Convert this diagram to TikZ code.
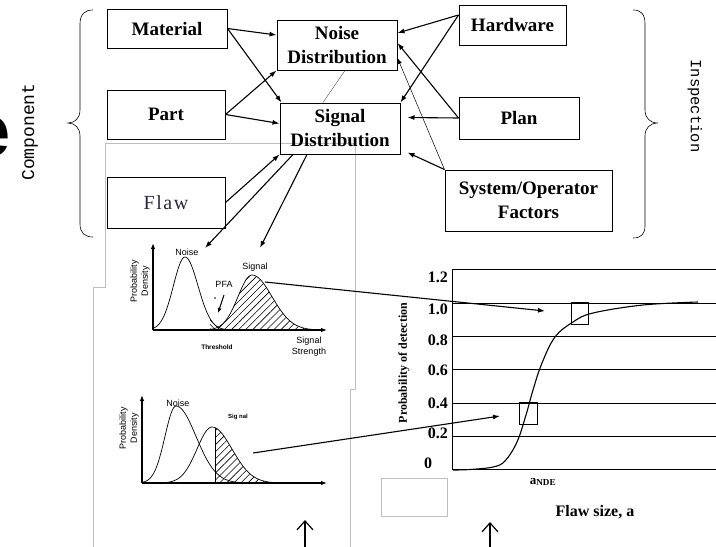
\documentclass[tikz,border=0pt]{standalone}
\usepackage{fontspec}
\setmainfont{Liberation Serif}
\setsansfont{Liberation Sans}
\setmonofont{Liberation Mono}
\usetikzlibrary{arrows.meta,patterns,patterns.meta,calc}
\definecolor{flawtext}{RGB}{40,40,60}
\begin{document}
\begin{tikzpicture}[x=1pt,y=-1pt,
 box/.style={draw,line width=1pt,inner sep=0pt,align=center,font=\fontsize{19}{24}\selectfont\bfseries},
 conn/.style={line width=1.1pt,-{Latex[length=7pt,width=5pt]}},
 thinconn/.style={line width=0.5pt,-{Latex[length=6pt,width=4pt]}},
 panel/.style={draw=black!25,line width=0.6pt},
 paxis/.style={line width=1.1pt,-{Latex[length=6pt,width=4.5pt]}},
 lab/.style={font=\sffamily\fontsize{9}{10}\selectfont,inner sep=0pt},
 pcurve/.style={line width=0.7pt},
 hatch/.style={pattern={Lines[angle=45,distance=5pt,line width=0.6pt]}},
 gridline/.style={line width=0.6pt},
 ytick/.style={anchor=east,inner sep=0pt,font=\fontsize{16}{16}\selectfont\bfseries},
 uparrow/.style={line width=1.2pt,-{Straight Barb[length=9pt,width=16pt]}}
]
\useasboundingbox (0,0) rectangle (716,547);

% panels
\draw[panel] (93,547) -- (93,287) -- (105,287) -- (105,143) -- (355,143) -- (355,389) -- (350,389) -- (350,547);
\draw[panel] (381,478) rectangle (447,516);

% big e clipped at the left edge, as in the reference
\begin{scope}
\clip (0,0) rectangle (716,547);
\node[font=\sffamily\bfseries\fontsize{74}{74}\selectfont,inner sep=0pt] (ebig) at (-10,137) {e};
\end{scope}

% side labels
\node[rotate=90,font=\ttfamily\fontsize{18}{18}\selectfont,inner sep=0pt] (comp) at (30,132) {Component};
\node[rotate=-90,font=\ttfamily\fontsize{15.5}{15.5}\selectfont,inner sep=0pt] (insp) at (695,106) {Inspection};

% braces
\draw[line width=0.6pt] (93,10) .. controls (85,10) and (80,14) .. (80,24) -- (80,110) .. controls (80,118) and (75,123) .. (68,123) .. controls (75,123) and (80,128) .. (80,136) -- (80,224) .. controls (80,233) and (85,237) .. (93,237);
\draw[line width=0.6pt] (633,10) .. controls (641,10) and (645,14) .. (645,24) -- (645,110) .. controls (645,118) and (650,123) .. (658,123) .. controls (650,123) and (645,128) .. (645,136) -- (645,226) .. controls (645,234) and (641,238) .. (633,238);

% boxes
\node[box,minimum width=120pt,minimum height=39pt] (mat) at (167,28.5) {Material};
\node[box,minimum width=118pt,minimum height=49pt] (part) at (166,114.5) {Part};
\node[draw,line width=1pt,inner sep=0pt,minimum width=118pt,minimum height=51pt,text=flawtext,font=\fontsize{20}{24}\selectfont\addfontfeature{LetterSpace=8}] (flaw) at (166,202.5) {Flaw};
\node[box,minimum width=120pt,minimum height=50pt] (noise) at (337,45) {Noise\\Distribution};
\node[box,minimum width=120pt,minimum height=51pt] (sig) at (340,128.5) {Signal\\Distribution};
\node[box,minimum width=107pt,minimum height=40pt] (hw) at (512.5,25) {Hardware};
\node[box,minimum width=120pt,minimum height=42pt] (plan) at (519,118) {Plan};
\node[box,minimum width=167pt,minimum height=61pt] (sys) at (528.5,200.5) {System/Operator\\Factors};

% connectors
\draw[conn] (mat.east) -- ([yshift=10pt]noise.west);
\draw[conn] (mat.east) -- ([xshift=2pt]sig.north west);
\draw[conn] (part.east) -- (noise.south west);
\draw[conn] (part.east) -- ([yshift=5pt]sig.west);
\draw[conn] (flaw.east) -- (sig.south west);
\draw[line width=0.4pt,black!70] ([xshift=8pt]noise.south) -- ([xshift=-17pt]sig.north);
\coordinate (nz1) at (205,248);
\coordinate (sg1) at (260,248);
\draw[conn] ([xshift=-47pt]sig.south) -- (nz1);
\draw[conn] ([xshift=-33pt]sig.south) -- (sg1);
\draw[conn] ([yshift=10pt]hw.west) -- ([yshift=12pt]noise.east);
\draw[conn] ([yshift=10pt]hw.west) -- (sig.north east);
\draw[conn] (plan.west) -- ([yshift=2pt]noise.east);
\draw[conn] (plan.west) -- ([xshift=7pt,yshift=11pt]sig.east);
\draw[thinconn] (sys.north west) -- ([yshift=-13pt]noise.east);
\draw[conn] (sys.north west) -- ([xshift=7pt,yshift=2pt]sig.south east);

% ---------- upper distribution plot ----------
\fill[hatch] (213,330) -- plot[domain=213:252,samples=30] (\x,{330-55*exp(-(\x-252)^2/392)}) -- plot[domain=252:315,samples=40] (\x,{330-55*exp(-(\x-252)^2/800)}) -- (315,330) -- cycle;
\fill[pattern={Lines[angle=-45,distance=3pt,line width=0.5pt]}] (210,330) -- plot[domain=210:228,samples=15] (\x,{330-73*exp(-(\x-185)^2/338)}) -- (228,330) -- cycle;
\draw[pcurve] plot[domain=153:185,samples=30] (\x,{330-73*exp(-(\x-185)^2/269)}) -- plot[domain=185:230,samples=40] (\x,{330-73*exp(-(\x-185)^2/338)});
\draw[pcurve] plot[domain=207:252,samples=30] (\x,{330-55*exp(-(\x-252)^2/392)}) -- plot[domain=252:318,samples=40] (\x,{330-55*exp(-(\x-252)^2/800)});
\draw[paxis] (153,330) -- (153,243);
\draw[paxis] (153,330) -- (327,330);
\node[lab] (n1lab) at (187,252) {Noise};
\node[lab] (s1lab) at (255,267) {Signal};
\node[lab] (pfa) at (224,284) {PFA};
\draw[line width=1pt,-{Latex[length=5pt,width=4pt]}] (224,295) -- (218,313);
\fill (215,298) circle (0.8);
\node[lab,rotate=90,align=center,font=\sffamily\fontsize{9}{11}\selectfont] (pd1) at (140,281) {Probability\\Density};
\node[lab,font=\sffamily\bfseries\fontsize{6.5}{6.5}\selectfont] (thr) at (217,347) {Threshold};
\node[lab,align=center,font=\sffamily\fontsize{9}{11}\selectfont] (ss) at (309,347) {Signal\\Strength};

% ---------- lower distribution plot ----------
\fill[hatch] (215,483) -- plot[domain=215:277,samples=40] (\x,{483-56*exp(-(\x-212)^2/800)}) -- (277,483) -- cycle;
\draw[pcurve] plot[domain=142:176,samples=30] (\x,{483-77*exp(-(\x-176)^2/242)}) -- plot[domain=176:240,samples=40] (\x,{483-77*exp(-(\x-176)^2/800)});
\draw[pcurve] plot[domain=165:212,samples=30] (\x,{483-56*exp(-(\x-212)^2/450)}) -- plot[domain=212:280,samples=40] (\x,{483-56*exp(-(\x-212)^2/800)});
\draw[line width=0.5pt] (215,483) -- (215,{483-56*exp(-9/800)});
\draw[paxis] (142,483) -- (142,395);
\draw[paxis] (142,483) -- (327,483);
\node[lab] (n2lab) at (178,403) {Noise};
\node[lab,font=\sffamily\bfseries\fontsize{6}{6}\selectfont] (s2lab) at (238,417) {Sig nal};
\node[lab,rotate=90,align=center,font=\sffamily\fontsize{9}{11}\selectfont] (pd2) at (129,428) {Probability\\Density};

% ---------- PoD chart ----------
\foreach \yy in {269,303,336,369,403,436,469} \draw[gridline] (452,\yy) -- (716,\yy);
\draw[gridline] (452,269) -- (452,469);
\node[ytick] (t12) at (448,277) {1.2};
\node[ytick] (t10) at (448,309) {1.0};
\node[ytick] (t08) at (448,340) {0.8};
\node[ytick] (t06) at (448,370) {0.6};
\node[ytick] (t04) at (448,403) {0.4};
\node[ytick] (t02) at (448,433) {0.2};
\node[ytick,anchor=center] (t00) at (428,463) {0};
\node[rotate=90,inner sep=0pt,font=\bfseries\fontsize{12}{12}\selectfont] (podlab) at (404,363) {Probability of detection};
\draw[line width=1.1pt] plot[smooth,tension=0.6] coordinates {(453,470) (470,469.5) (493,467) (505,461) (517,442) (526,415) (533,390) (542,363) (555,337) (573,322) (593,313) (643,305) (698,302)};
\draw[line width=0.9pt] (571,302) rectangle (588,324);
\draw[line width=0.9pt] (519,402) rectangle (537,424);
\node[inner sep=0pt,font=\bfseries\fontsize{13}{13}\selectfont] (ande) at (543,482) {a\textsubscript{NDE}};
\node[inner sep=0pt,font=\bfseries\fontsize{16}{16}\selectfont] (fsz) at (595,512) {Flaw size, a};

% plot-to-PoD connectors
\coordinate (pk1) at (265,282);
\coordinate (pod1) at (545,311);
\draw[conn] (pk1) -- (pod1);
\coordinate (pk2) at (253,453);
\coordinate (pod2) at (500,416);
\draw[conn] (pk2) -- (pod2);

% bottom arrows
\coordinate (ua1) at (305,547);
\coordinate (ub1) at (305,520);
\coordinate (ua2) at (490,547);
\coordinate (ub2) at (490,522);
\draw[uparrow] (ua1) -- (ub1);
\draw[uparrow] (ua2) -- (ub2);
\end{tikzpicture}
\end{document}
